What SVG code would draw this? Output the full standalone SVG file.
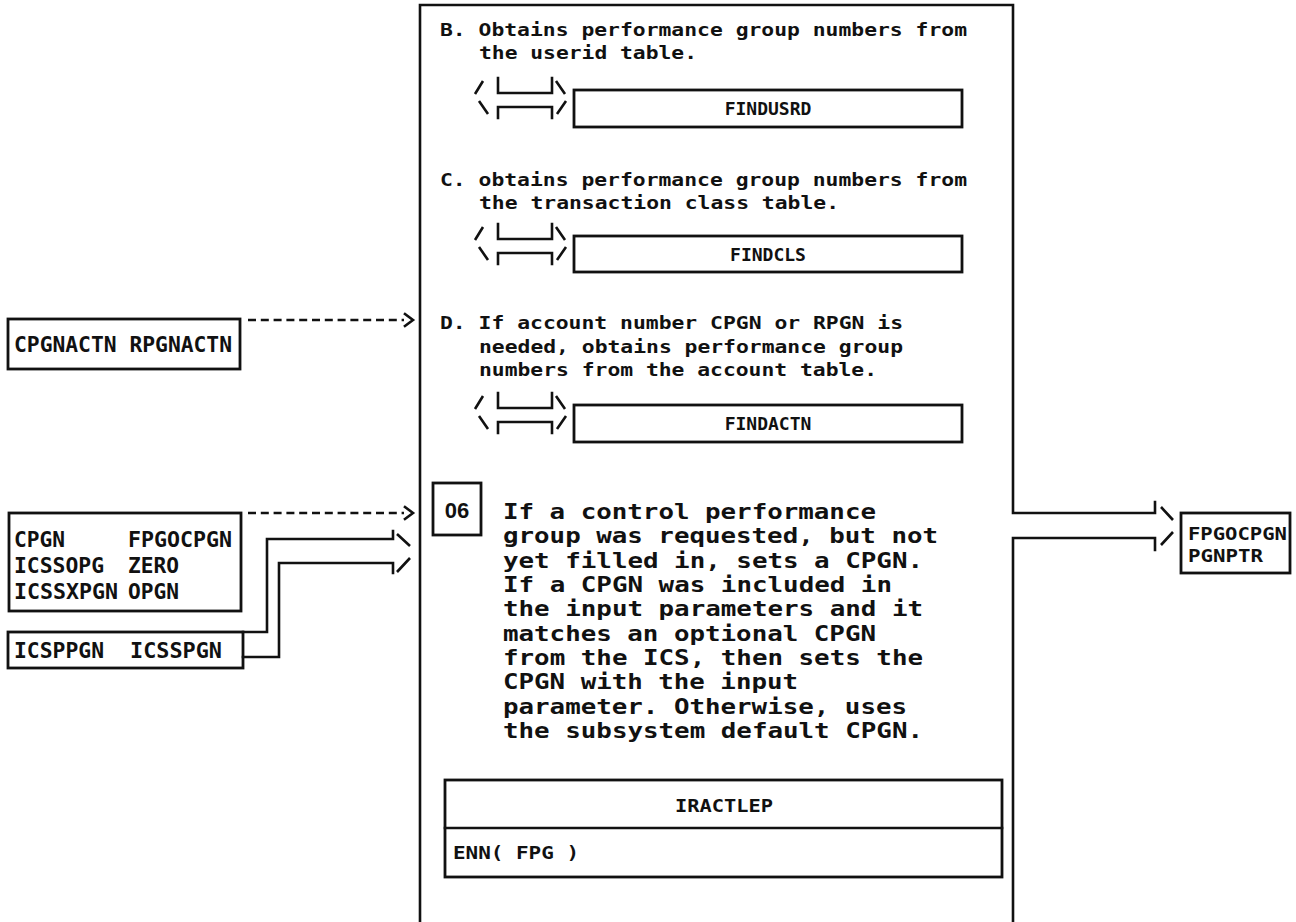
<svg xmlns="http://www.w3.org/2000/svg" width="1296" height="922" viewBox="0 0 1296 922">
<style>
  .ln{fill:none;stroke:#111;stroke-width:2.6;stroke-linecap:square;stroke-linejoin:miter}
  .sl{fill:none;stroke:#111;stroke-width:2.6;stroke-linecap:butt}
  .box{fill:#fff;stroke:#111;stroke-width:2.8}
  .dash{fill:none;stroke:#111;stroke-width:2.6;stroke-dasharray:8 4.8}
  .t{font-family:"DejaVu Sans Mono","Liberation Mono",monospace;font-weight:bold;fill:#111}
  .s{font-family:"Liberation Sans",Arial,sans-serif;font-weight:bold;fill:#111}
  .body{font-size:17.5px}
  .para{font-size:22px}
  .lbl{font-size:21px}
  .out{font-size:18px}
  .mod{font-size:18px}
  .mid{text-anchor:middle}
</style>
<defs>
  <!-- two-row call symbol drawn to the left of a module box; origin = box top -->
  <g id="call">
    <path class="sl" d="M2,4 L10,-9 M83,-9 L92,4 M6,11 L15,24 M84,24 L93,11"/>
    <path class="ln" d="M25,-12 V3 H79 V-12 M25,28 V17 H79 V28"/>
  </g>
</defs>

<!-- main process box, border continues into the output connector on the right -->
<g id="process">
  <path class="ln" d="M420,922 V5 H1013 V513 H1155 V502"/>
  <path class="ln" d="M1155,550 V538 H1013 V922"/>
  <path class="sl" d="M1161,507 L1173,520 M1161,545 L1173,532"/>
</g>

<g id="stepB">
  <text class="t body" x="440" y="36" textLength="527" lengthAdjust="spacingAndGlyphs">B. Obtains performance group numbers from</text>
  <text class="t body" x="479" y="59" textLength="218" lengthAdjust="spacingAndGlyphs">the userid table.</text>
  <use href="#call" x="473" y="90"/>
  <rect class="box" x="574" y="90" width="388" height="37"/>
  <text class="t mod mid" x="768" y="115">FINDUSRD</text>
</g>

<g id="stepC">
  <text class="t body" x="440" y="186" textLength="527" lengthAdjust="spacingAndGlyphs">C. obtains performance group numbers from</text>
  <text class="t body" x="479" y="209" textLength="360" lengthAdjust="spacingAndGlyphs">the transaction class table.</text>
  <use href="#call" x="473" y="236"/>
  <rect class="box" x="574" y="236" width="388" height="36"/>
  <text class="t mod mid" x="768" y="261">FINDCLS</text>
</g>

<g id="stepD">
  <text class="t body" x="440" y="329" textLength="463" lengthAdjust="spacingAndGlyphs">D. If account number CPGN or RPGN is</text>
  <text class="t body" x="479" y="353" textLength="424" lengthAdjust="spacingAndGlyphs">needed, obtains performance group</text>
  <text class="t body" x="479" y="376" textLength="398" lengthAdjust="spacingAndGlyphs">numbers from the account table.</text>
  <use href="#call" x="473" y="405"/>
  <rect class="box" x="574" y="405" width="388" height="37"/>
  <text class="t mod mid" x="768" y="430">FINDACTN</text>
</g>

<g id="step06">
  <rect class="box" x="433" y="483" width="48" height="52"/>
  <text class="s para mid" x="457" y="518">06</text>
  <text class="t para" x="503" y="519" textLength="373" lengthAdjust="spacingAndGlyphs">If a control performance</text>
  <text class="t para" x="503" y="543" textLength="435" lengthAdjust="spacingAndGlyphs">group was requested, but not</text>
  <text class="t para" x="503" y="568" textLength="420" lengthAdjust="spacingAndGlyphs">yet filled in, sets a CPGN.</text>
  <text class="t para" x="503" y="592" textLength="389" lengthAdjust="spacingAndGlyphs">If a CPGN was included in</text>
  <text class="t para" x="503" y="616" textLength="420" lengthAdjust="spacingAndGlyphs">the input parameters and it</text>
  <text class="t para" x="503" y="641" textLength="373" lengthAdjust="spacingAndGlyphs">matches an optional CPGN</text>
  <text class="t para" x="503" y="665" textLength="420" lengthAdjust="spacingAndGlyphs">from the ICS, then sets the</text>
  <text class="t para" x="503" y="689" textLength="295" lengthAdjust="spacingAndGlyphs">CPGN with the input</text>
  <text class="t para" x="503" y="714" textLength="404" lengthAdjust="spacingAndGlyphs">parameter. Otherwise, uses</text>
  <text class="t para" x="503" y="738" textLength="420" lengthAdjust="spacingAndGlyphs">the subsystem default CPGN.</text>
</g>

<g id="iractlep">
  <rect class="box" x="445" y="780" width="557" height="97"/>
  <path class="ln" d="M445,828 H1002"/>
  <text class="t mod mid" x="724" y="812" textLength="98" lengthAdjust="spacingAndGlyphs">IRACTLEP</text>
  <text class="t mod" x="453" y="859" textLength="126" lengthAdjust="spacingAndGlyphs">ENN( FPG )</text>
</g>

<g id="in-actn">
  <rect class="box" x="8" y="319" width="232" height="50"/>
  <text class="t lbl" x="14" y="352" textLength="218" lengthAdjust="spacingAndGlyphs">CPGNACTN RPGNACTN</text>
</g>

<g id="in-cpgn">
  <rect class="box" x="9" y="513" width="232" height="98"/>
  <text class="t lbl" x="14" y="547" textLength="51" lengthAdjust="spacingAndGlyphs">CPGN</text>
  <text class="t lbl" x="128" y="547" textLength="104" lengthAdjust="spacingAndGlyphs">FPGOCPGN</text>
  <text class="t lbl" x="14" y="573" textLength="90" lengthAdjust="spacingAndGlyphs">ICSSOPG</text>
  <text class="t lbl" x="128" y="573" textLength="51" lengthAdjust="spacingAndGlyphs">ZERO</text>
  <text class="t lbl" x="14" y="599" textLength="104" lengthAdjust="spacingAndGlyphs">ICSSXPGN</text>
  <text class="t lbl" x="128" y="599" textLength="51" lengthAdjust="spacingAndGlyphs">OPGN</text>
</g>

<g id="in-icsp">
  <rect class="box" x="8" y="632" width="235" height="36"/>
  <text class="t lbl" x="14" y="658" textLength="90" lengthAdjust="spacingAndGlyphs">ICSPPGN</text>
  <text class="t lbl" x="130" y="658" textLength="92" lengthAdjust="spacingAndGlyphs">ICSSPGN</text>
</g>

<g id="out-fpgo">
  <rect class="box" x="1181" y="513" width="109" height="60"/>
  <text class="t out" x="1188" y="540" textLength="99" lengthAdjust="spacingAndGlyphs">FPGOCPGN</text>
  <text class="t out" x="1188" y="562" textLength="75" lengthAdjust="spacingAndGlyphs">PGNPTR</text>
</g>

<g id="connectors">
  <path class="dash" d="M248,320 H404"/>
  <path class="ln" d="M405,314 L413,320 L405,326"/>
  <path class="dash" d="M248,513 H404"/>
  <path class="ln" d="M405,507 L413,513 L405,519"/>
  <path class="ln" d="M393,531 V539 H267 V632 H243"/>
  <path class="ln" d="M393,573 V563 H279 V657 H243"/>
  <path class="sl" d="M397,534 L410,546 M397,572 L410,558"/>
</g>
</svg>
